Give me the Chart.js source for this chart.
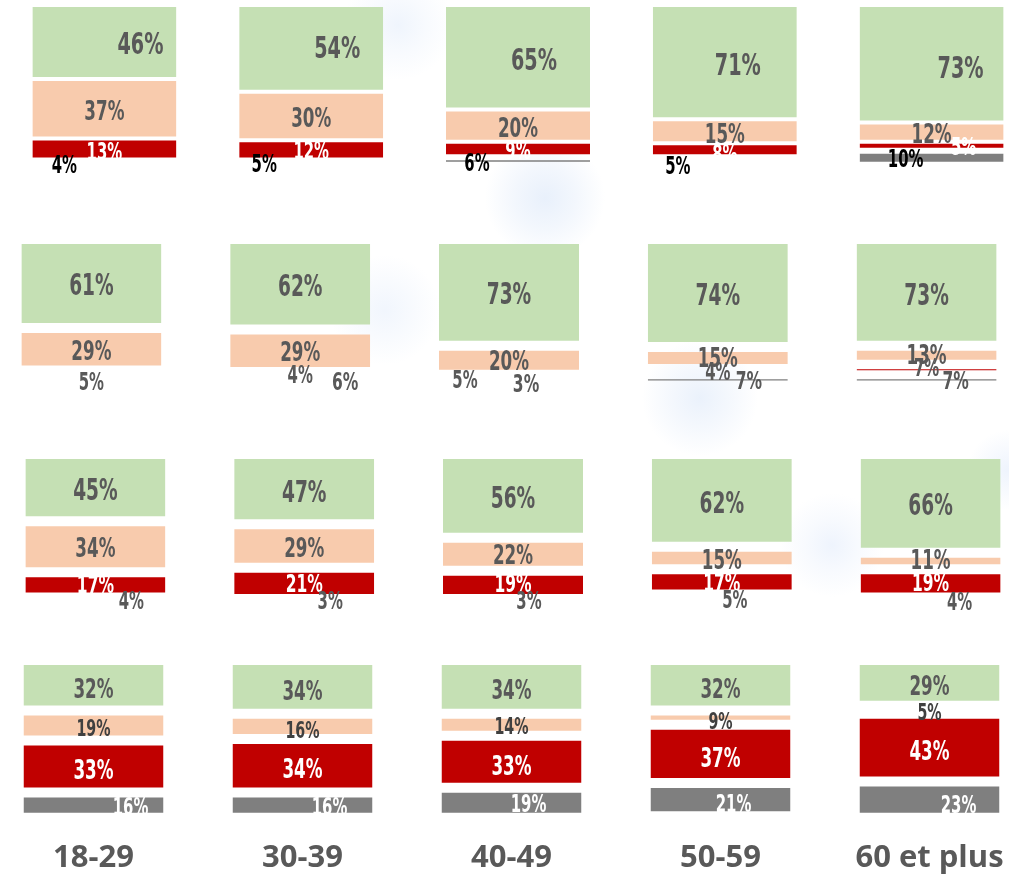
<!DOCTYPE html>
<html lang="fr">
<head>
<meta charset="utf-8">
<title>Répartition par tranche d'âge</title>
<script src="https://cdn.jsdelivr.net/npm/chart.js@4.4.0/dist/chart.umd.min.js"></script>
<style>
  html, body { margin: 0; padding: 0; }
  body {
    width: 1009px;
    height: 874px;
    overflow: hidden;
    position: relative;
    background-color: #fff;
    background-image:
      radial-gradient(circle at 545px 198px, rgba(214,228,248,0.55) 0, rgba(214,228,248,0.3) 30px, rgba(214,228,248,0) 60px),
      radial-gradient(circle at 398px 25px, rgba(220,232,250,0.45) 0, rgba(220,232,250,0.2) 28px, rgba(220,232,250,0) 55px),
      radial-gradient(circle at 385px 310px, rgba(220,232,250,0.4) 0, rgba(220,232,250,0.2) 28px, rgba(220,232,250,0) 55px),
      radial-gradient(circle at 700px 398px, rgba(214,228,248,0.5) 0, rgba(214,228,248,0.25) 30px, rgba(214,228,248,0) 58px),
      radial-gradient(circle at 832px 545px, rgba(218,230,250,0.45) 0, rgba(218,230,250,0.2) 26px, rgba(218,230,250,0) 52px),
      radial-gradient(circle at 1008px 470px, rgba(218,230,250,0.45) 0, rgba(218,230,250,0) 40px);
  }
  canvas { position: absolute; }
</style>
</head>
<body>
<canvas id="row1"></canvas>
<canvas id="row2"></canvas>
<canvas id="row3"></canvas>
<canvas id="row4"></canvas>
<script>
// tranches d'âge (axe du bas)
const ageGroups = ['18-29', '30-39', '40-49', '50-59', '60 et plus'];

// ligne 1
const row1Green = [46, 54, 65, 71, 73];
const row1Peach = [37, 30, 20, 15, 12];
const row1Red   = [13, 12, 9, 8, 5];
const row1Grey  = [4, 5, 6, 5, 10];

// ligne 2 (pas de valeur grise lisible pour 18-29)
const row2Green = [61, 62, 73, 74, 73];
const row2Peach = [29, 29, 20, 15, 13];
const row2Red   = [5, 4, 5, 4, 7];
const row2Grey  = [null, 6, 3, 7, 7];

// ligne 3
const row3Green = [45, 47, 56, 62, 66];
const row3Peach = [34, 29, 22, 15, 11];
const row3Red   = [17, 21, 19, 17, 19];
const row3Grey  = [4, 3, 3, 5, 4];

// ligne 4
const row4Green = [32, 34, 34, 32, 29];
const row4Peach = [19, 16, 14, 9, 5];
const row4Red   = [33, 34, 33, 37, 43];
const row4Grey  = [16, 16, 19, 21, 23];

const seriesNames = ['vert', 'saumon', 'rouge', 'gris'];
const seriesColors = ['#c5e0b4', '#f8cbad', '#c00000', '#7f7f7f'];

// placement of each row on the page + label styling
const rows = [
  {
    id: 'row1', left: 1, top: 5, width: 1034, height: 185, max: 115,
    thickness: 144, gaps: [2, 2, 2, 4],
    series: [row1Green, row1Peach, row1Red, row1Grey],
    textColors: ['#595959', '#595959', '#ffffff', '#000000'],
    fontSizes: [31, 27, 24, 24],
    dx: [[36, 26, 16, 13, 29], [0, 0, 0, 0, 0], [0, 0, 0, 0, 32], [-40, -47, -41, -47, -26]],
    dy: [[1, -1, 2, 2, 3], [1, 1, 1, 2, 1], [2, 0, 1, 3, 0], [1, 0, 1, 5, 0]]
  },
  {
    id: 'row2', left: -13, top: 239, width: 1044, height: 168, max: 115,
    thickness: 140, gaps: [5, 5, 4.5, 4.5],
    series: [row2Green, row2Peach, row2Red, row2Grey],
    textColors: ['#595959', '#595959', '#595959', '#595959'],
    fontSizes: [30, 27, 24, 25],
    dx: [[0, 0, 0, 0, 0], [0, 0, 0, 0, 0], [0, 0, -44, 0, 0], [0, 45, 17, 31, 29]],
    dy: [[0, 1, 1, 1, 2], [1, 0, 0, -1, -1], [7, -1, 0, -1, -3], [0, -1, -1, 0, 0]]
  },
  {
    id: 'row3', left: -9, top: 454, width: 1044, height: 172, max: 115,
    thickness: 140, gaps: [5, 5, 5, 5],
    series: [row3Green, row3Peach, row3Red, row3Grey],
    textColors: ['#595959', '#595959', '#ffffff', '#595959'],
    fontSizes: [30, 27, 25, 24],
    dx: [[0, 0, 0, 0, 0], [0, 0, 0, 0, 0], [0, 0, 0, 0, 0], [36, 26, 16, 13, 29]],
    dy: [[1, 2, 1, 2, 1], [0, 1, 0, 1, -2], [-1, 0, -2, 0, -1], [-1, -1, -1, 1, 0]]
  },
  {
    id: 'row4', left: -11, top: 660, width: 1045, height: 239, max: 100,
    thickness: 140, gaps: [5, 5, 5, 5], showAxis: true,
    series: [row4Green, row4Peach, row4Red, row4Grey],
    textColors: ['#595959', '#404040', '#ffffff', '#ffffff'],
    fontSizes: [27, 23, 27, 24],
    dx: [[0, 0, 0, 0, 0], [0, 0, 0, 0, 0], [0, 0, 0, 0, 0], [37, 27, 17, 13, 29]],
    dy: [[3, 3, 2, 3, 2], [2, 3, 1, 3, 2], [2, 2, 3, 3, 2], [1, 1, 0, 3, 4]]
  }
];

// draws the "46%" style labels, narrow heavy digits
const segmentLabels = {
  id: 'segmentLabels',
  afterDatasetsDraw(chart, args, opts) {
    const ctx = chart.ctx;
    chart.data.datasets.forEach((ds, di) => {
      const meta = chart.getDatasetMeta(di);
      meta.data.forEach((bar, i) => {
        const v = ds.data[i];
        if (v === null || v === undefined) return;
        const x = bar.x + opts.dx[di][i];
        const yMid = (bar.y + bar.base) / 2 + opts.dy[di][i];
        ctx.save();
        ctx.font = 'bold ' + opts.fontSizes[di] + 'px "DejaVu Sans", sans-serif';
        ctx.fillStyle = opts.textColors[di];
        ctx.textAlign = 'center';
        ctx.textBaseline = 'alphabetic';
        const cap = ctx.measureText('0').actualBoundingBoxAscent;
        ctx.translate(x, yMid + cap / 2);
        ctx.scale(0.62, 1);
        ctx.fillText(v + '%', 0, 0);
        ctx.restore();
      });
    });
  }
};

rows.forEach(row => {
  const canvas = document.getElementById(row.id);
  canvas.width = row.width;
  canvas.height = row.height;
  canvas.style.left = row.left + 'px';
  canvas.style.top = row.top + 'px';

  new Chart(canvas, {
    type: 'bar',
    data: {
      labels: ageGroups,
      datasets: row.series.map((values, k) => ({
        label: seriesNames[k],
        data: values,
        backgroundColor: seriesColors[k],
        borderColor: 'rgba(255,255,255,0)',
        borderWidth: { top: row.gaps[k], bottom: row.gaps[k], left: 0, right: 0 },
        borderSkipped: false,
        inflateAmount: 0,
        barThickness: row.thickness,
        clip: false
      }))
    },
    options: {
      responsive: false,
      animation: false,
      layout: { padding: 0 },
      plugins: {
        legend: { display: false },
        tooltip: { enabled: false },
        segmentLabels: {
          textColors: row.textColors,
          fontSizes: row.fontSizes,
          dx: row.dx,
          dy: row.dy
        }
      },
      scales: {
        x: {
          stacked: true,
          display: !!row.showAxis,
          grid: { display: false, drawTicks: false },
          border: { display: false },
          ticks: {
            color: '#595959',
            font: { family: '"Open Sans"', size: 31, weight: 'bold' },
            padding: 22,
            autoSkip: false,
            maxRotation: 0
          }
        },
        y: {
          stacked: true,
          display: false,
          reverse: true,
          min: 0,
          max: row.max
        }
      }
    },
    plugins: [segmentLabels]
  });
});
</script>
</body>
</html>
